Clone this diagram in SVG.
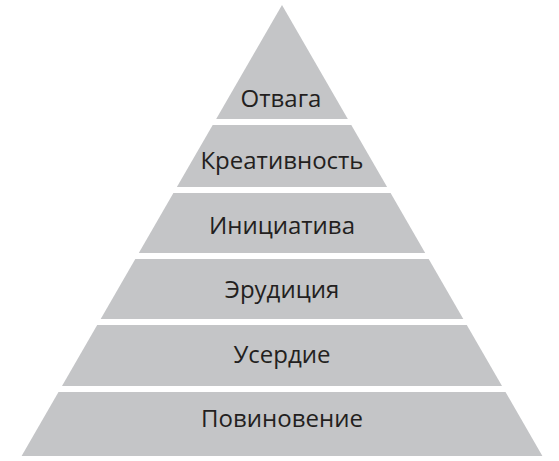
<svg xmlns="http://www.w3.org/2000/svg" width="559" height="461" viewBox="0 0 559 461">
<style>
.band{fill:#c4c5c7}
.lbl{font-family:"Open Sans","Liberation Sans",sans-serif;font-size:24px;fill:#231f20;text-anchor:middle}
</style>
<rect width="559" height="461" fill="#ffffff"/>
<g id="otvaga"><polygon class="band" points="282,5 347.8,119 216.2,119"/><text class="lbl" x="281" y="107">Отвага</text></g>
<g id="kreativnost"><polygon class="band" points="212.7,125 351.3,125 387.1,187 176.9,187"/><text class="lbl" x="282" y="169">Креативность</text></g>
<g id="initsiativa"><polygon class="band" points="173.4,193 390.6,193 425.2,253 138.8,253"/><text class="lbl" x="282" y="234">Инициатива</text></g>
<g id="eruditsiya"><polygon class="band" points="135.3,259 428.7,259 463.3,319 100.7,319"/><text class="lbl" x="282" y="298">Эрудиция</text></g>
<g id="userdie"><polygon class="band" points="97.2,325 466.8,325 502,386 62,386"/><text class="lbl" x="282" y="363">Усердие</text></g>
<g id="povinovenie"><polygon class="band" points="58.5,392 505.5,392 542.4,456 21.6,456"/><text class="lbl" x="282" y="427">Повиновение</text></g>
<g id="connectors"></g>
</svg>
